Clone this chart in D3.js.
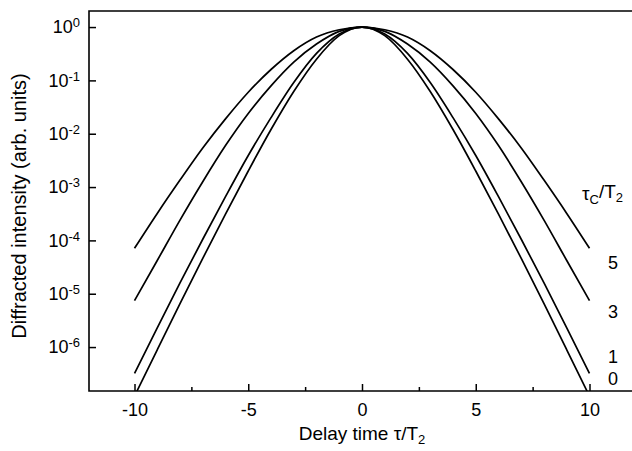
<!DOCTYPE html>
<html>
<head>
<meta charset="utf-8">
<script src="https://cdn.jsdelivr.net/npm/d3@7"></script>
<style>
  body { margin: 0; background: #fff; }
  svg text { font-family: "Liberation Sans", Arial, Helvetica, sans-serif; fill: #000; }
</style>
</head>
<body>
<script>
// Datos (retardo en unidades de T2)
const delays = [-10, -9, -8, -7, -6, -5, -4, -3, -2, -1, 0, 1, 2, 3, 4, 5, 6, 7, 8, 9, 10];

const tc0 = [1.2e-7, 8.9e-7, 6.5e-6, 4.6e-5, 3.1e-4, 2.0e-3, 1.2e-2, 6.2e-2, 0.25, 0.69, 1,
             0.69, 0.25, 6.2e-2, 1.2e-2, 2.0e-3, 3.1e-4, 4.6e-5, 6.5e-6, 8.9e-7, 1.2e-7];
const tc1 = [3.2e-7, 2.3e-6, 1.6e-5, 1.05e-4, 6.6e-4, 3.9e-3, 2.0e-2, 9.1e-2, 0.32, 0.74, 1,
             0.74, 0.32, 9.1e-2, 2.0e-2, 3.9e-3, 6.6e-4, 1.05e-4, 1.6e-5, 2.3e-6, 3.2e-7];
const tc3 = [7.4e-6, 4.2e-5, 2.4e-4, 1.26e-3, 6.0e-3, 2.4e-2, 7.9e-2, 0.22, 0.48, 0.83, 1,
             0.83, 0.48, 0.22, 7.9e-2, 2.4e-2, 6.0e-3, 1.26e-3, 2.4e-4, 4.2e-5, 7.4e-6];
const tc5 = [7.1e-5, 3.2e-4, 1.35e-3, 5.4e-3, 1.9e-2, 6.0e-2, 0.16, 0.36, 0.65, 0.89, 1,
             0.89, 0.65, 0.36, 0.16, 6.0e-2, 1.9e-2, 5.4e-3, 1.35e-3, 3.2e-4, 7.1e-5];

const curveLabels = ["5", "3", "1", "0"];
const xTicks = [-10, -5, 0, 5, 10];
const xMinorTicks = [-7.5, -2.5, 2.5, 7.5];
const yTicks = [1, 1e-1, 1e-2, 1e-3, 1e-4, 1e-5, 1e-6];

// Tamaño
const w = 632, h = 451;
const mLeft = 89, mTop = 11, mRight = 635, mBottom = 391;

const svg = d3.select('body')
    .append('svg')
    .attr('width', w)
    .attr('height', h);

const x = d3.scaleLinear().domain([-12, 12]).range([mLeft, mRight]);
const y = d3.scaleLog().domain([1.5e-7, 2]).range([mBottom, mTop]);

svg.append('clipPath')
    .attr('id', 'plotArea')
    .append('rect')
    .attr('x', mLeft).attr('y', mTop)
    .attr('width', mRight - mLeft).attr('height', mBottom - mTop);

// Curvas
const linea = d3.line()
    .x((d, i) => x(delays[i]))
    .y(d => y(d))
    .curve(d3.curveMonotoneX);

svg.append('g')
    .attr('clip-path', 'url(#plotArea)')
    .selectAll('path')
    .data([tc5, tc3, tc1, tc0])
    .enter()
    .append('path')
    .attr('d', linea)
    .attr('fill', 'none')
    .attr('stroke', '#000')
    .attr('stroke-width', 1.7);

// Eje X (guion normal en los negativos)
svg.append('g')
    .attr('transform', `translate(0,${mBottom})`)
    .call(d3.axisBottom(x).tickValues(xTicks).tickSize(-7).tickPadding(12).tickFormat(d => String(d)));

svg.append('g')
    .attr('transform', `translate(0,${mBottom})`)
    .call(d3.axisBottom(x).tickValues(xMinorTicks).tickSize(-4).tickFormat(''));

// Eje Y
const ejeY = svg.append('g')
    .attr('transform', `translate(${mLeft},0)`)
    .call(d3.axisLeft(y).tickValues(yTicks).tickSize(-7).tickPadding(9).tickFormat(''));

ejeY.selectAll('.tick text').each(function (d) {
    const t = d3.select(this);
    t.append('tspan').text('10');
    t.append('tspan')
        .attr('dy', '-0.45em')
        .attr('font-size', '13px')
        .text(Math.round(Math.log10(d)));
});

svg.selectAll('.domain').remove();
svg.selectAll('.tick line').attr('stroke', '#000').attr('stroke-width', 1.5);
svg.selectAll('.tick text').attr('font-size', '18px').attr('font-family', null).attr('fill', '#000');

// Marco
svg.append('path')
    .attr('d', `M${mRight},${mTop}H${mLeft}V${mBottom}H${mRight}`)
    .attr('fill', 'none')
    .attr('stroke', '#000')
    .attr('stroke-width', 1.6);

// Títulos
const tx = svg.append('text')
    .attr('x', x(0))
    .attr('y', 440)
    .attr('text-anchor', 'middle')
    .attr('font-size', '19px');
tx.append('tspan').text('Delay time \u03c4/T');
tx.append('tspan').attr('dy', '0.3em').attr('font-size', '13px').text('2');

svg.append('text')
    .attr('transform', 'translate(26,206) rotate(-90)')
    .attr('text-anchor', 'middle')
    .attr('font-size', '20px')
    .text('Diffracted intensity (arb. units)');

// Leyenda
const ley = svg.append('text')
    .attr('x', 582)
    .attr('y', 200)
    .attr('font-size', '19px');
ley.append('tspan').text('\u03c4');
ley.append('tspan').attr('dy', '0.3em').attr('font-size', '13px').text('C');
ley.append('tspan').attr('dy', '-0.3em').text('/T');
ley.append('tspan').attr('dy', '0.3em').attr('font-size', '13px').text('2');

const labelY = [269, 318, 363, 385];
svg.selectAll('.etiqueta')
    .data(curveLabels)
    .enter()
    .append('text')
    .attr('class', 'etiqueta')
    .attr('x', 613)
    .attr('y', (d, i) => labelY[i])
    .attr('text-anchor', 'middle')
    .attr('font-size', '18px')
    .text(d => d);
</script>
</body>
</html>
